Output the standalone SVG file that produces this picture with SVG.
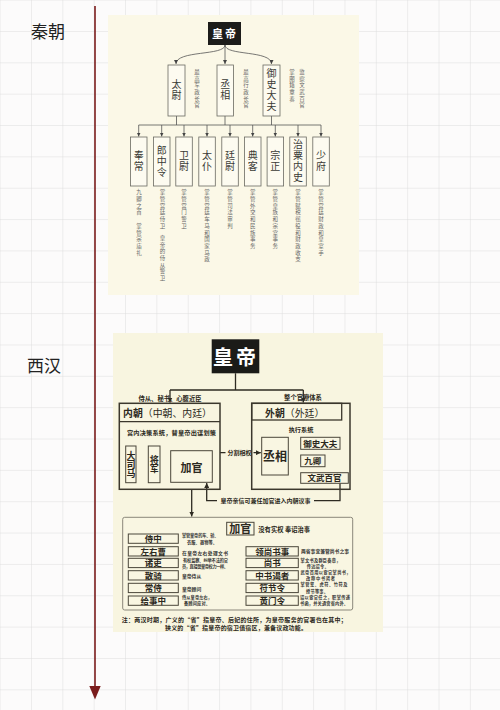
<svg xmlns="http://www.w3.org/2000/svg" width="500" height="710" viewBox="0 0 500 710">
<defs>
<pattern id="grid" x="0.6" y="0.6" width="31.35" height="31.35" patternUnits="userSpaceOnUse">
<path d="M31.35 0V31.35M0 31.35H31.35" fill="none" stroke="#d6d6d6" stroke-width="0.8"/>
</pattern>
<marker id="ah" viewBox="0 0 6 6" refX="6" refY="3" markerWidth="4" markerHeight="4" orient="auto" markerUnits="userSpaceOnUse">
<path d="M0 0L6 3L0 6z" fill="#444"/>
</marker>
<marker id="ah2" viewBox="0 0 6 6" refX="6" refY="3" markerWidth="5" markerHeight="5" orient="auto" markerUnits="userSpaceOnUse">
<path d="M0 0L6 3L0 6z" fill="#2e2b22"/>
</marker>
<style>
text{font-family:"Noto Sans CJK SC","Noto Sans",sans-serif;}
.v{writing-mode:vertical-rl;}
.qbox{fill:#fdfbf0;stroke:#6a6a62;stroke-width:0.8;}
.qt{font-size:10px;fill:#3a3a36;letter-spacing:1.5px;text-anchor:middle;}
.qs{font-size:5.5px;fill:#666;letter-spacing:1.2px;}
.ql{fill:none;stroke:#555;stroke-width:0.8;}
.hl{fill:none;stroke:#2e2b22;stroke-width:1.3;}
.hbox{fill:none;stroke:#3b372c;stroke-width:1.5;}
.ibox{fill:#f9f6e2;stroke:#4a463a;stroke-width:1;}
.b{font-weight:bold;fill:#2b2820;}
.d{font-size:4.8px;fill:#333;font-weight:bold;}
.d2{font-size:4.2px;fill:#333;font-weight:bold;}
.it{font-size:8.5px;font-weight:bold;fill:#2b2820;text-anchor:middle;}
</style>
</defs>
<rect width="500" height="710" fill="#fcfbfb"/>
<rect width="500" height="710" fill="url(#grid)"/>

<g id="timeline">
<line x1="95" y1="6" x2="95" y2="688" stroke="#7a1c1c" stroke-width="1.6"/>
<path d="M89.3 686L100.7 686L95 699.5z" fill="#7a1c1c"/>
</g>
<g id="label-qin"><text x="31" y="37.5" font-size="17" fill="#222">秦朝</text></g>
<g id="label-han"><text x="27" y="372" font-size="17" fill="#222">西汉</text></g>

<!-- Qin panel -->
<rect x="108" y="15" width="251" height="280" fill="#fbf8e7"/>
<g id="qin-connectors">
<path class="ql" d="M225 45C225 56 176 50 176 64" marker-end="url(#ah)"/>
<path class="ql" d="M225 45V64" marker-end="url(#ah)"/>
<path class="ql" d="M225 45C225 56 271.5 50 271.5 64" marker-end="url(#ah)"/>
<path class="ql" d="M176.5 116V125M225 116V125M271.5 116V125M138.7 125H321"/>
<path class="ql" d="M138.7 125V136.5" marker-end="url(#ah)"/>
<path class="ql" d="M161.7 125V136.5" marker-end="url(#ah)"/>
<path class="ql" d="M184 125V136.5" marker-end="url(#ah)"/>
<path class="ql" d="M207 125V136.5" marker-end="url(#ah)"/>
<path class="ql" d="M230 125V136.5" marker-end="url(#ah)"/>
<path class="ql" d="M252.7 125V136.5" marker-end="url(#ah)"/>
<path class="ql" d="M275.3 125V136.5" marker-end="url(#ah)"/>
<path class="ql" d="M298 125V136.5" marker-end="url(#ah)"/>
<path class="ql" d="M321 125V136.5" marker-end="url(#ah)"/>
</g>
<g id="qin-emperor">
<rect x="208" y="22" width="33" height="23" fill="#1c1c1a"/>
<text x="225" y="37.8" font-size="11" font-weight="bold" fill="#fff" text-anchor="middle" letter-spacing="2">皇帝</text>
</g>
<g id="qin-taiwei">
<rect class="qbox" x="168" y="65" width="17" height="51"/>
<text class="qt v" x="176.5" y="90.5">太尉</text>
<text class="qs v" x="197" y="69">最高军政长官</text>
</g>
<g id="qin-chengxiang">
<rect class="qbox" x="217" y="65" width="16.5" height="51"/>
<text class="qt v" x="225.2" y="90.5">丞相</text>
<text class="qs v" x="246" y="69">最高行政长官</text>
</g>
<g id="qin-yushi">
<rect class="qbox" x="263" y="65" width="17" height="51"/>
<text class="qt v" x="271.5" y="90.5" style="letter-spacing:1.2px">御史大夫</text>
<text class="qs v" x="292" y="69">掌图籍章奏</text>
<text class="qs v" x="302" y="69">监察文武百官</text>
</g>
<g id="qin-fengchang">
<rect class="qbox" x="130.5" y="137" width="16.5" height="49"/>
<text class="qt v" x="138.7" y="161.5">奉常</text>
<text class="qs v" x="139" y="189.5">九卿之首</text>
<text class="qs v" x="139" y="223">掌管宗庙礼</text>
</g>
<g id="qin-langzhongling">
<rect class="qbox" x="153.5" y="137" width="16.5" height="49"/>
<text class="qt v" x="161.7" y="161.5" style="letter-spacing:1px">郎中令</text>
<text class="qs v" x="162.5" y="189.5">掌管宫廷侍卫</text>
<text class="qs v" x="162.5" y="235">皇帝的侍从警卫</text>
</g>
<g id="qin-weiwei">
<rect class="qbox" x="175.8" y="137" width="16.5" height="49"/>
<text class="qt v" x="184" y="161.5">卫尉</text>
<text class="qs v" x="184" y="189.5">掌管宫门警卫</text>
</g>
<g id="qin-taipu">
<rect class="qbox" x="198.8" y="137" width="16.5" height="49"/>
<text class="qt v" x="207" y="161.5">太仆</text>
<text class="qs v" x="207" y="189.5">掌管宫廷车马和国家马政</text>
</g>
<g id="qin-tingwei">
<rect class="qbox" x="221.8" y="137" width="16.5" height="49"/>
<text class="qt v" x="230" y="161.5">廷尉</text>
<text class="qs v" x="230" y="189.5">掌管司法审判</text>
</g>
<g id="qin-dianke">
<rect class="qbox" x="244.5" y="137" width="16.5" height="49"/>
<text class="qt v" x="252.7" y="161.5">典客</text>
<text class="qs v" x="252.7" y="189.5">掌管外交和民族事务</text>
</g>
<g id="qin-zongzheng">
<rect class="qbox" x="267.1" y="137" width="16.5" height="49"/>
<text class="qt v" x="275.3" y="161.5">宗正</text>
<text class="qs v" x="275.3" y="189.5">掌管皇族和宗室事务</text>
</g>
<g id="qin-zhisu">
<rect class="qbox" x="289.8" y="137" width="16.5" height="49"/>
<text class="qt v" x="298" y="161.5" style="letter-spacing:1px">治粟内史</text>
<text class="qs v" x="298" y="189.5">掌管赋税徭役和财政收支</text>
</g>
<g id="qin-shaofu">
<rect class="qbox" x="312.8" y="137" width="16.5" height="49"/>
<text class="qt v" x="321" y="161.5">少府</text>
<text class="qs v" x="321" y="189.5">掌管宫廷财政和皇室手</text>
</g>

<!-- Han panel -->
<rect x="113" y="333" width="270" height="299" fill="#f8f5e0"/>
<g id="han-connectors">
<path class="hl" d="M235.5 373.3V390M170 390H303.3"/>
<path class="hl" d="M170 390V402.5" marker-end="url(#ah2)"/>
<path class="hl" d="M303.3 390V402.5" marker-end="url(#ah2)"/>
<path class="hl" d="M220 452.7H260.8" marker-end="url(#ah2)"/>
<path class="hl" d="M340 483.3V500.7H206.7V483" marker-end="url(#ah2)"/>
<path class="hl" d="M191.7 489.3V516.5" marker-end="url(#ah2)"/>
<rect x="225.5" y="449" width="28" height="7" fill="#f8f5e0"/>
<text x="239.5" y="454.8" font-size="6" class="b" text-anchor="middle">分割相权</text>
<rect x="217" y="497.5" width="97" height="7" fill="#f8f5e0"/>
<text x="265.5" y="503" font-size="6" class="b" text-anchor="middle">皇帝亲信可兼任加官进入内朝议事</text>
<text x="170" y="400.5" font-size="6.3" class="b" text-anchor="middle">侍从、秘书、心腹近臣</text>
<text x="303" y="399.5" font-size="6.3" class="b" text-anchor="middle">整个官僚体系</text>
</g>
<g id="han-emperor">
<rect x="211.7" y="339.3" width="47.6" height="34" fill="#1b1b18"/>
<text x="236" y="364.5" font-size="20" font-weight="bold" fill="#fff" text-anchor="middle" letter-spacing="3">皇帝</text>
</g>
<g id="han-neichao">
<rect class="hbox" x="119.3" y="403.3" width="100.7" height="86"/>
<line x1="119.3" y1="421.7" x2="220" y2="421.7" stroke="#3b372c" stroke-width="1.3"/>
<text x="123" y="417" font-size="9.9" fill="#2b2820"><tspan font-weight="bold">内朝</tspan>（中朝、内廷）</text>
<text x="127" y="435" font-size="6.2" class="b" textLength="89">宫内决策系统，替皇帝出谋划策</text>
</g>
<g id="han-dasima">
<rect class="ibox" x="125.7" y="446" width="10.3" height="36.7"/>
<text class="v b" x="130.9" y="464.3" font-size="9" text-anchor="middle">大司马</text>
</g>
<g id="han-jiangjun">
<rect class="ibox" x="148.3" y="446" width="11.7" height="36.7"/>
<text class="v b" x="154.2" y="464.3" font-size="9" text-anchor="middle">将军</text>
</g>
<g id="han-jiaguan">
<rect class="ibox" x="170.7" y="450.7" width="41.6" height="31.6"/>
<text x="191.5" y="472" font-size="11" class="b" text-anchor="middle">加官</text>
</g>
<g id="han-waichao">
<rect class="hbox" x="251.7" y="403.3" width="98.3" height="86"/>
<rect x="251.7" y="403.3" width="90" height="16.7" fill="none" stroke="#3b372c" stroke-width="1.3"/>
<text x="265" y="417" font-size="9.9" fill="#2b2820"><tspan font-weight="bold">外朝</tspan>（外廷）</text>
<text x="301" y="432.3" font-size="6.2" class="b" text-anchor="middle">执行系统</text>
</g>
<g id="han-chengxiang">
<rect class="ibox" x="261.7" y="437.3" width="26.6" height="37.7"/>
<text x="275" y="460.5" font-size="12" class="b" text-anchor="middle">丞相</text>
</g>
<g id="han-yushi">
<rect class="ibox" x="300.7" y="437.3" width="39.3" height="12"/>
<text x="320.3" y="446.5" font-size="8.5" class="b" text-anchor="middle">御史大夫</text>
</g>
<g id="han-jiuqing">
<rect class="ibox" x="300.7" y="455" width="24.3" height="11.7"/>
<text x="312.8" y="464" font-size="8.5" class="b" text-anchor="middle">九卿</text>
</g>
<g id="han-wenwu">
<rect class="ibox" x="300.7" y="472.7" width="47.6" height="10.6"/>
<text x="324.5" y="481.3" font-size="8.5" class="b" text-anchor="middle">文武百官</text>
</g>

<g id="han-jiaguan-panel">
<rect x="122.7" y="517.3" width="230" height="92.7" rx="2" fill="#f9f6e2" stroke="#8a877a" stroke-width="1"/>
<rect class="ibox" x="226.7" y="522.3" width="27.3" height="12.7"/>
<text x="240.3" y="533" font-size="11" class="b" text-anchor="middle">加官</text>
<text x="258.3" y="532" font-size="6.3" class="b">没有实权 奉诏治事</text>
</g>
<g id="item-shizhong">
<rect class="ibox" x="128.3" y="534" width="50" height="9.3"/>
<text class="it" x="153.3" y="542">侍中</text>
<text class="d2"><tspan x="182" y="537" textLength="36.5">掌管皇帝的车、轿、</tspan><tspan x="187" y="543.6" textLength="30">衣服、器物等。</tspan></text>
</g>
<g id="item-zuoyoucao">
<rect class="ibox" x="128.3" y="546.7" width="50" height="9.3"/>
<text class="it" x="153.3" y="554.7">左右曹</text>
<text class="d" x="182" y="554.8" font-size="4.6" textLength="46">在皇帝左右处理文书</text>
</g>
<g id="item-zhuli">
<rect class="ibox" x="128.3" y="558.3" width="50" height="9.3"/>
<text class="it" x="153.3" y="566.3">诸吏</text>
<text class="d2"><tspan x="183" y="561.6" textLength="45">有权监察、纠举不法的官</tspan><tspan x="182" y="567.7" textLength="46">员，直接受皇帝权力一样。</tspan></text>
</g>
<g id="item-sanqi">
<rect class="ibox" x="128.3" y="570.7" width="50" height="9.3"/>
<text class="it" x="153.3" y="578.7">散骑</text>
<text class="d" x="182" y="578" font-size="5.2">皇帝侍从</text>
</g>
<g id="item-changshi">
<rect class="ibox" x="128.3" y="583.3" width="50" height="9.3"/>
<text class="it" x="153.3" y="591.3">常侍</text>
<text class="d" x="182" y="590.5" font-size="5.2">皇帝顾问</text>
</g>
<g id="item-jishizhong">
<rect class="ibox" x="128.3" y="596" width="50" height="9.3"/>
<text class="it" x="153.3" y="604">给事中</text>
<text class="d2"><tspan x="182" y="599" textLength="30">侍从皇帝左右，</tspan><tspan x="184" y="605.1" textLength="26">备顾问应对。</tspan></text>
</g>
<g id="item-lingshangshushi">
<rect class="ibox" x="246" y="546.7" width="52.3" height="9.3"/>
<text class="it" x="272.2" y="554.7">领尚书事</text>
<text class="d" x="301" y="553" textLength="48">两省事宜兼管尚书之事</text>
</g>
<g id="item-shangshu">
<rect class="ibox" x="246" y="558.3" width="52.3" height="9.3"/>
<text class="it" x="272.2" y="566.3">尚书</text>
<text class="d2"><tspan x="300.5" y="561.5" textLength="40">掌文书及群臣奏章，</tspan><tspan x="306.7" y="567.6" textLength="22">传达诏令。</tspan></text>
</g>
<g id="item-zhongshuyezhe">
<rect class="ibox" x="246" y="570.7" width="52.3" height="9.3"/>
<text class="it" x="272.2" y="578.7">中书谒者</text>
<text class="d2"><tspan x="300.5" y="573.8" textLength="50">武帝首用以宦官掌尚书，</tspan><tspan x="306" y="579.9" textLength="29">改称中书谒者</tspan></text>
</g>
<g id="item-fujieling">
<rect class="ibox" x="246" y="583.3" width="52.3" height="9.3"/>
<text class="it" x="272.2" y="591.3">符节令</text>
<text class="d2"><tspan x="300.5" y="586.4" textLength="47">掌管玺、虎符、竹符及</tspan><tspan x="306" y="592.5" textLength="22">授节等事。</tspan></text>
</g>
<g id="item-huangmenling">
<rect class="ibox" x="246" y="596" width="52.3" height="9.3"/>
<text class="it" x="272.2" y="604">黄门令</text>
<text class="d2"><tspan x="300" y="599" textLength="50">诏以宦官任之，职掌传递</tspan><tspan x="300" y="605.1" textLength="48">书函，并关通宫省内外。</tspan></text>
</g>
<g id="han-note">
<text font-size="6" class="b"><tspan x="121.7" y="622" textLength="225">注：两汉时期，广义的“省”指皇帝、后妃的住所，为皇帝服务的官署也在其中；</tspan><tspan x="165" y="629.5" textLength="142">狭义的“省”指皇帝的宿卫值宿区，兼备议政功能。</tspan></text>
</g>
</svg>
